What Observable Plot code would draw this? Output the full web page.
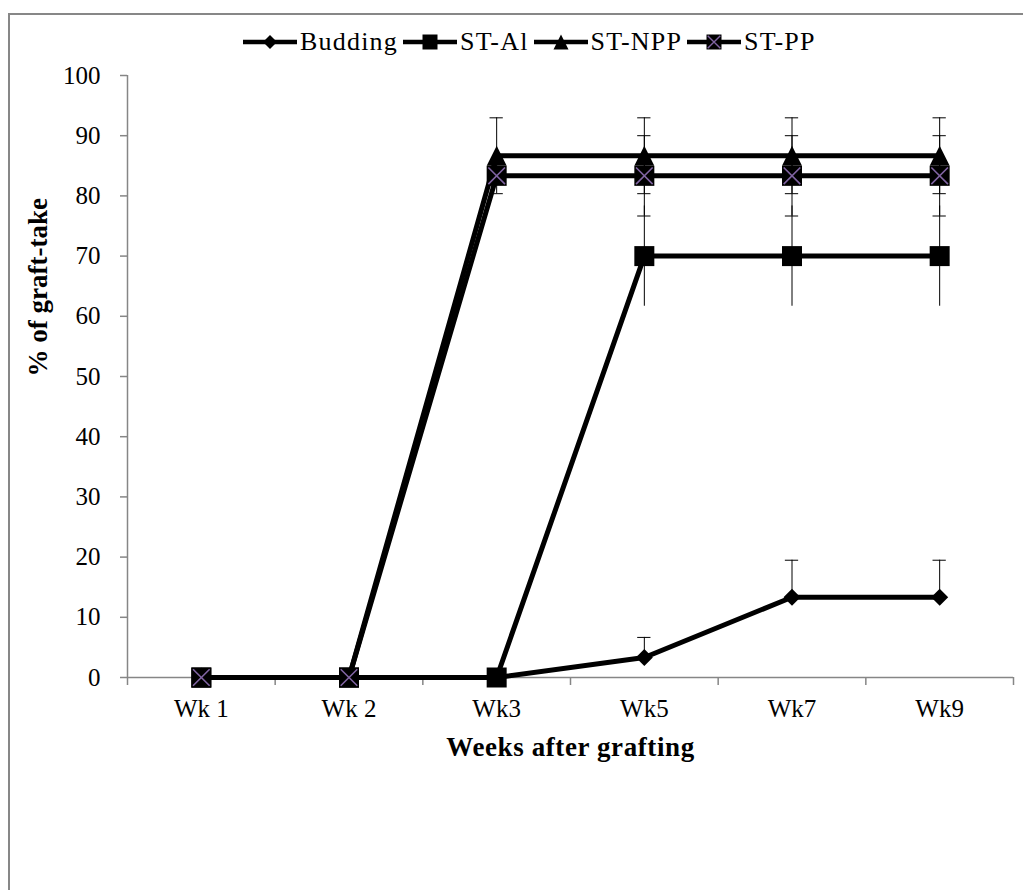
<!DOCTYPE html>
<html>
<head>
<meta charset="utf-8">
<script src="https://cdn.jsdelivr.net/npm/d3@7"></script>
<script src="https://cdn.jsdelivr.net/npm/@observablehq/plot@0.6"></script>
<style>
  html, body { margin: 0; padding: 0; background: white; overflow: hidden; }
  body { width: 1023px; height: 890px; position: relative; font-family: "Liberation Serif", serif; }
  #frame { position: absolute; left: 8px; top: 13px; width: 1100px; height: 1000px; border: 2px solid #878787; box-sizing: border-box; z-index: 10; pointer-events: none; }
  #legend { height: 60px; display: flex; align-items: center; padding-left: 242px; padding-top: 24px; box-sizing: border-box; font-size: 26px; color: #000; }
  #legend .item { display: flex; align-items: center; }
  #legend .item span { margin-left: 2px; margin-right: 4px; letter-spacing: 1.2px; }
  #chart svg { display: block; background: transparent; }
</style>
</head>
<body>
<div id="frame"></div>
<div id="legend"></div>
<div id="chart"></div>
<script>
// ---- data ----
const weeks = ["Wk 1", "Wk 2", "Wk3", "Wk5", "Wk7", "Wk9"];
const seriesNames = ["Budding", "ST-Al", "ST-NPP", "ST-PP"];
const budding = [0, 0, 0, 3.33, 13.33, 13.33];
const stAl = [0, 0, 0, 70, 70, 70];
const stNPP = [0, 0, 86.67, 86.67, 86.67, 86.67];
const stPP = [0, 0, 83.33, 83.33, 83.33, 83.33];
// error amounts (plus / minus)
const buddingErrPlus = [0, 0, 0, 3.33, 6.15, 6.15];
const buddingErrMinus = [0, 0, 0, 0, 0, 0];
const stAlErrPlus = [0, 0, 0, 8.33, 8.33, 8.33];
const stAlErrMinus = [0, 0, 0, 8.33, 8.33, 8.33];
const stNPPErrPlus = [0, 0, 6.3, 6.3, 6.3, 6.3];
const stNPPErrMinus = [0, 0, 6.3, 6.3, 6.3, 6.3];
const stPPErrPlus = [0, 0, 0, 6.67, 6.67, 6.67];
const stPPErrMinus = [0, 0, 0, 6.67, 6.67, 6.67];

const values = [budding, stAl, stNPP, stPP];
const errPlus = [buddingErrPlus, stAlErrPlus, stNPPErrPlus, stPPErrPlus];
const errMinus = [buddingErrMinus, stAlErrMinus, stNPPErrMinus, stPPErrMinus];
const hasCaps = [true, false, true, true];

// ---- symbols ----
const rOf = size => Math.sqrt(size / Math.PI);
const diamondSym = {draw(c, size) { const r = rOf(size); c.moveTo(0, -r); c.lineTo(r, 0); c.lineTo(0, r); c.lineTo(-r, 0); c.closePath(); }};
const squareSym = {draw(c, size) { const r = rOf(size); c.moveTo(-r, -r); c.lineTo(r, -r); c.lineTo(r, r); c.lineTo(-r, r); c.closePath(); }};
const triangleSym = {draw(c, size) { const r = rOf(size); c.moveTo(0, -r); c.lineTo(r, r); c.lineTo(-r, r); c.closePath(); }};
const timesSym = {draw(c, size) { const r = rOf(size); c.moveTo(-r, -r); c.lineTo(r, r); c.moveTo(r, -r); c.lineTo(-r, r); }};

const markerStyles = [
  [{symbol: diamondSym, r: 8.5, fill: "black"}],
  [{symbol: squareSym, r: 10, fill: "black"}],
  [{symbol: triangleSym, r: 10, fill: "black"}],
  [{symbol: squareSym, r: 10, fill: "black"}, {symbol: timesSym, r: 8.3, fill: "none", stroke: "#8064A2", strokeWidth: 1.6}]
];

// ---- tables ----
const rows = [];
seriesNames.forEach((s, k) => weeks.forEach((w, i) => rows.push({series: s, k, week: w, i, value: values[k][i]})));
const errRows = [];
const capRows = [];
seriesNames.forEach((s, k) => weeks.forEach((w, i) => {
  const p = errPlus[k][i], m = errMinus[k][i], v = values[k][i];
  if (p > 0 || m > 0) {
    errRows.push({i, lo: v - m, hi: v + p});
    if (hasCaps[k]) {
      if (p > 0) capRows.push({i, v: v + p});
      if (m > 0) capRows.push({i, v: v - m});
    }
  }
}));

const gray = "#868686";
const marks = [
  Plot.ruleX(errRows, {x: "i", y1: "lo", y2: "hi", stroke: "black", strokeWidth: 1}),
  Plot.ruleY(capRows, {y: "v", x1: d => d.i - 0.045, x2: d => d.i + 0.045, stroke: "black", strokeWidth: 1})
];
seriesNames.forEach((s, k) => {
  const data = rows.filter(d => d.k === k);
  marks.push(Plot.line(data, {x: "i", y: "value", stroke: "black", strokeWidth: 5, strokeLinejoin: "round"}));
  markerStyles[k].forEach(st => {
    marks.push(Plot.dot(data, {x: "i", y: "value", symbol: () => st.symbol, r: st.r, fill: st.fill, stroke: st.stroke || "none", strokeWidth: st.strokeWidth || 0}));
  });
});

const chart = Plot.plot({
  width: 1023,
  height: 830,
  marginTop: 15,
  marginBottom: 213,
  marginLeft: 127,
  marginRight: 10,
  style: {fontFamily: "Liberation Serif, serif", fontSize: "25px", color: "black", background: "transparent"},
  x: {type: "linear", domain: [-0.5, weeks.length - 0.5], label: null},
  y: {domain: [0, 100], label: null},
  symbol: {type: "identity"},
  marks: [
    Plot.axisY(d3.range(0, 101, 10), {tickSize: 7, tickPadding: 20, stroke: gray, strokeWidth: 1.5, fill: "black", label: null, fontSize: 25}),
    Plot.axisX(d3.range(-0.5, weeks.length, 1), {tickSize: 8, tickFormat: () => "", stroke: gray, strokeWidth: 1.5, label: null}),
    Plot.axisX(d3.range(weeks.length), {tickSize: 0, tickPadding: 22, tickFormat: i => weeks[i], fill: "black", label: null, fontSize: 25}),
    Plot.ruleX([-0.5], {stroke: gray, strokeWidth: 1.5}),
    Plot.ruleY([0], {stroke: gray, strokeWidth: 1.5}),
    ...marks,
    Plot.text(["% of graft-take"], {text: d => d, frameAnchor: "left", dx: -89, rotate: -90, fontWeight: "bold", fontSize: 27, fill: "black"}),
    Plot.text(["Weeks after grafting"], {text: d => d, frameAnchor: "bottom", dy: 78, fontWeight: "bold", fontSize: 27, fill: "black"})
  ]
});
document.getElementById("chart").appendChild(chart);
d3.select(chart).selectAll("text").filter(function() { return this.textContent === "Weeks after grafting"; }).attr("letter-spacing", "0.6px");

// ---- legend ----
const legendSyms = [
  [{symbol: diamondSym, r: 7, fill: "black"}],
  [{symbol: squareSym, r: 7.5, fill: "black"}],
  [{symbol: triangleSym, r: 7.5, fill: "black"}],
  [{symbol: squareSym, r: 7.5, fill: "black"}, {symbol: timesSym, r: 6.3, fill: "none", stroke: "#8064A2", strokeWidth: 1.4}]
];
const legend = d3.select("#legend");
seriesNames.forEach((s, k) => {
  const item = legend.append("div").attr("class", "item");
  const svg = item.append("svg").attr("width", 56).attr("height", 24);
  svg.append("line").attr("x1", 1).attr("x2", 55).attr("y1", 12).attr("y2", 12).attr("stroke", "black").attr("stroke-width", 4.5);
  legendSyms[k].forEach(st => {
    svg.append("path").attr("transform", "translate(28,12)")
      .attr("d", d3.symbol(st.symbol, Math.PI * st.r * st.r)())
      .attr("fill", st.fill).attr("stroke", st.stroke || "none").attr("stroke-width", st.strokeWidth || 0);
  });
  item.append("span").text(s);
});
</script>
</body>
</html>
